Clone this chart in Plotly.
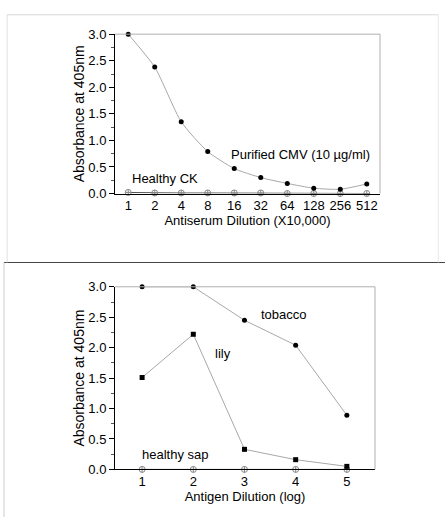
import plotly.graph_objects as go

# ---- data: top panel ----
dilution_labels = ["1", "2", "4", "8", "16", "32", "64", "128", "256", "512"]
purified_cmv = [3.00, 2.38, 1.35, 0.79, 0.47, 0.30, 0.19, 0.10, 0.08, 0.18]
healthy_ck = [0.02, 0.01, 0.01, 0.01, 0.01, 0.01, 0.00, 0.00, 0.00, 0.00]

# ---- data: bottom panel ----
antigen_dilution = [1, 2, 3, 4, 5]
tobacco = [3.00, 3.00, 2.45, 2.04, 0.89]
lily = [1.51, 2.22, 0.33, 0.16, 0.05]
healthy_sap = [0.00, 0.00, 0.00, 0.00, 0.00]

y_ticks = [0.0, 0.5, 1.0, 1.5, 2.0, 2.5, 3.0]
y_labels = ["0.0", "0.5", "1.0", "1.5", "2.0", "2.5", "3.0"]

FONT = "Liberation Sans, Arial, sans-serif"
LINE = "#a8a8a8"

fig = go.Figure()
xpos = list(range(len(dilution_labels)))

fig.add_trace(go.Scatter(x=xpos, y=healthy_ck, mode="lines+markers",
                         line=dict(color="#555555", width=1),
                         marker=dict(symbol="circle-cross-open", size=6, color="#888888", line=dict(width=1)),
                         cliponaxis=False, xaxis="x", yaxis="y", showlegend=False))
fig.add_trace(go.Scatter(x=xpos, y=purified_cmv, mode="lines+markers",
                         line=dict(color=LINE, width=1, shape="spline", smoothing=0.6),
                         marker=dict(symbol="circle", size=5, color="black"),
                         cliponaxis=False, xaxis="x", yaxis="y", showlegend=False))

fig.add_trace(go.Scatter(x=antigen_dilution, y=healthy_sap, mode="lines+markers",
                         line=dict(color="#555555", width=1),
                         marker=dict(symbol="circle-cross-open", size=6, color="#888888", line=dict(width=1)),
                         cliponaxis=False, xaxis="x2", yaxis="y2", showlegend=False))
fig.add_trace(go.Scatter(x=antigen_dilution, y=lily, mode="lines+markers",
                         line=dict(color=LINE, width=1),
                         marker=dict(symbol="square", size=5, color="black"),
                         cliponaxis=False, xaxis="x2", yaxis="y2", showlegend=False))
fig.add_trace(go.Scatter(x=antigen_dilution, y=tobacco, mode="lines+markers",
                         line=dict(color=LINE, width=1),
                         marker=dict(symbol="circle", size=5, color="black"),
                         cliponaxis=False, xaxis="x2", yaxis="y2", showlegend=False))

yaxis_common = dict(range=[0, 3], tickvals=y_ticks, ticktext=y_labels,
                    ticks="outside", ticklen=5, tickwidth=1, tickcolor="black",
                    minor=dict(dtick=0.25, ticks="outside", ticklen=3, tickcolor="#555555"),
                    showline=True, linecolor="black", linewidth=1, showgrid=False, zeroline=False,
                    tickfont=dict(family=FONT, size=13, color="black"),
                    title=dict(text="Absorbance at 405nm", font=dict(family=FONT, size=14, color="black"), standoff=0))

fig.update_layout(
    width=445, height=525, margin=dict(l=0, r=0, t=0, b=0),
    paper_bgcolor="white", plot_bgcolor="white",
    xaxis=dict(domain=[0.2584, 0.854], anchor="y", range=[-0.5, 9.5],
               tickvals=xpos, ticktext=dilution_labels, ticks="", showline=True,
               linecolor="black", linewidth=1, showgrid=False, zeroline=False,
               tickfont=dict(family=FONT, size=13, color="black"),
               title=dict(text="Antiserum Dilution (X10,000)", font=dict(family=FONT, size=13, color="black"), standoff=2)),
    yaxis=dict(domain=[0.6343, 0.9467], anchor="x", **yaxis_common),
    xaxis2=dict(domain=[0.2584, 0.8427], anchor="y2", range=[0.47, 5.55],
                tickvals=antigen_dilution, ticktext=[str(v) for v in antigen_dilution], ticks="",
                showline=True, linecolor="black", linewidth=1, showgrid=False, zeroline=False,
                tickfont=dict(family=FONT, size=13, color="black"),
                title=dict(text="Antigen Dilution (log)", font=dict(family=FONT, size=13, color="black"), standoff=2)),
    yaxis2=dict(domain=[0.0933, 0.4514], anchor="x2", **yaxis_common),
)

ann_font = dict(family=FONT, size=13, color="black")
annotations = [
    dict(x=3.80, y=0.73, xref="x", yref="y", text="Purified CMV (10 µg/ml)"),
    dict(x=0.07, y=0.29, xref="x", yref="y", text="Healthy CK"),
    dict(x=3.28, y=2.54, xref="x2", yref="y2", text="tobacco"),
    dict(x=2.385, y=1.90, xref="x2", yref="y2", text="lily"),
    dict(x=0.96, y=0.24, xref="x2", yref="y2", text="healthy sap"),
]
for a in annotations:
    fig.add_annotation(showarrow=False, xanchor="left", yanchor="middle", font=ann_font, **a)

# light top/right frame lines of each plot box
shapes = []
for xr, yr in (("x", "y"), ("x2", "y2")):
    shapes.append(dict(type="line", xref=xr + " domain", yref=yr + " domain", x0=0, x1=1, y0=1, y1=1,
                       line=dict(color="#b0b0b0", width=1)))
    shapes.append(dict(type="line", xref=xr + " domain", yref=yr + " domain", x0=1, x1=1, y0=0, y1=1,
                       line=dict(color="#b0b0b0", width=1)))
# scanned page frame lines
shapes += [
    dict(type="line", xref="paper", yref="paper", x0=0.009, x1=1, y0=1 - 263 / 525, y1=1 - 263 / 525,
         line=dict(color="#444444", width=1)),
    dict(type="line", xref="paper", yref="paper", x0=0.009, x1=0.009, y0=0, y1=1 - 263 / 525,
         line=dict(color="#cccccc", width=1)),
    dict(type="line", xref="paper", yref="paper", x0=0.016, x1=0.016, y0=1 - 263 / 525, y1=1 - 8 / 525,
         line=dict(color="#e0e0e0", width=1)),
    dict(type="line", xref="paper", yref="paper", x0=0.016, x1=0.985, y0=1 - 8 / 525, y1=1 - 8 / 525,
         line=dict(color="#d8d8d8", width=1)),
    dict(type="line", xref="paper", yref="paper", x0=0.985, x1=0.985, y0=1 - 263 / 525, y1=1 - 8 / 525,
         line=dict(color="#e8e8e8", width=1)),
]
fig.update_layout(shapes=shapes)

fig.write_html("out.html")
